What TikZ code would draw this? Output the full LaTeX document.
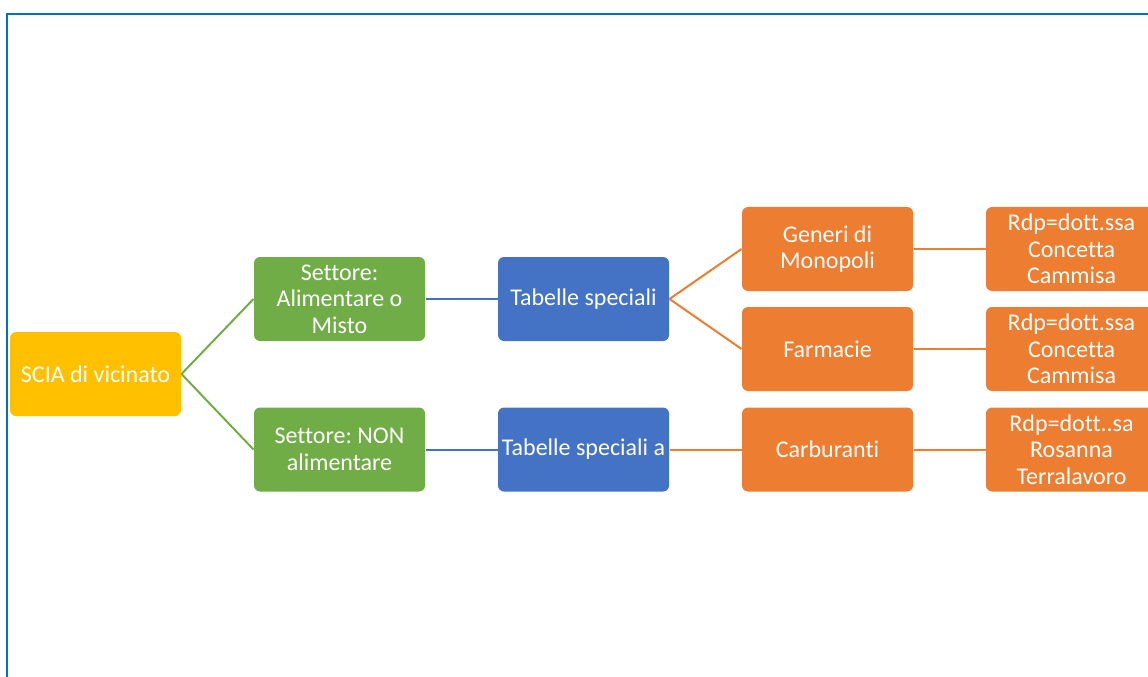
\documentclass[tikz,border=0pt]{standalone}
\usepackage{fontspec}
\setmainfont{Carlito}[Ligatures=NoCommon]
\frenchspacing

\tikzset{every picture/.style={line width=0.75pt}}
\tikzset{
  sbox/.style={rounded corners=4.5pt, minimum width=128.25pt, minimum height=63pt,
    inner sep=0.75pt, align=center, text=white, font=\fontsize{18}{20}\selectfont},
  yellowbox/.style={sbox, fill={rgb, 255:red, 255; green, 192; blue, 0 }},
  greenbox/.style={sbox, fill={rgb, 255:red, 112; green, 173; blue, 71 }},
  bluebox/.style={sbox, fill={rgb, 255:red, 68; green, 114; blue, 196 }},
  orangebox/.style={sbox, fill={rgb, 255:red, 237; green, 125; blue, 49 }},
  greenline/.style={draw={rgb, 255:red, 112; green, 173; blue, 71 }, line width=1.5pt},
  blueline/.style={draw={rgb, 255:red, 68; green, 114; blue, 196 }, line width=1.5pt},
  orangeline/.style={draw={rgb, 255:red, 237; green, 125; blue, 49 }, line width=1.5pt},
}

\begin{document}
\begin{tikzpicture}[x=0.75pt,y=0.75pt,yscale=-1,xscale=1]
\path[use as bounding box] (0,0) rectangle (1148,677);
\clip (0,0) rectangle (1148,677);

%Frame
\draw [color={rgb, 255:red, 0; green, 112; blue, 192 }, line width=1.5pt] (7,14) rectangle (1180,700);

% Text Node
\node [yellowbox] (scia) at (95.5,374) {SCIA di vicinato};
% Text Node
\node [greenbox] (alim) at (339.5,299) {Settore:\\Alimentare o\\Misto};
% Text Node
\node [greenbox] (nonal) at (339.5,449.5) {Settore: NON\\alimentare};
% Text Node
\node [bluebox] (tab1) at (583.5,299) {Tabelle speciali};
% Text Node
\node [bluebox] (tab2) at (583.5,449.5) {Tabelle speciali a};
% Text Node
\node [orangebox] (gen) at (827.5,249) {Generi di\\Monopoli};
% Text Node
\node [orangebox] (farm) at (827.5,349) {Farmacie};
% Text Node
\node [orangebox] (carb) at (827.5,449.5) {Carburanti};
% Text Node
\node [orangebox] (rdp1) at (1071.5,249) {Rdp=dott.ssa\\Concetta\\Cammisa};
% Text Node
\node [orangebox] (rdp2) at (1071.5,349) {Rdp=dott.ssa\\Concetta\\Cammisa};
% Text Node
\node [orangebox] (rdp3) at (1071.5,449.5) {Rdp=dott..sa\\Rosanna\\Terralavoro};

%Straight Lines
\draw [greenline] (scia.east) -- (alim.west);
\draw [greenline] (scia.east) -- (nonal.west);
%Straight Lines
\draw [blueline] (alim.east) -- (tab1.west);
\draw [blueline] (nonal.east) -- (tab2.west);
%Straight Lines
\draw [orangeline] (tab1.east) -- (gen.west);
\draw [orangeline] (tab1.east) -- (farm.west);
\draw [orangeline] (tab2.east) -- (carb.west);
\draw [orangeline] (gen.east) -- (rdp1.west);
\draw [orangeline] (farm.east) -- (rdp2.west);
\draw [orangeline] (carb.east) -- (rdp3.west);

\end{tikzpicture}
\end{document}
